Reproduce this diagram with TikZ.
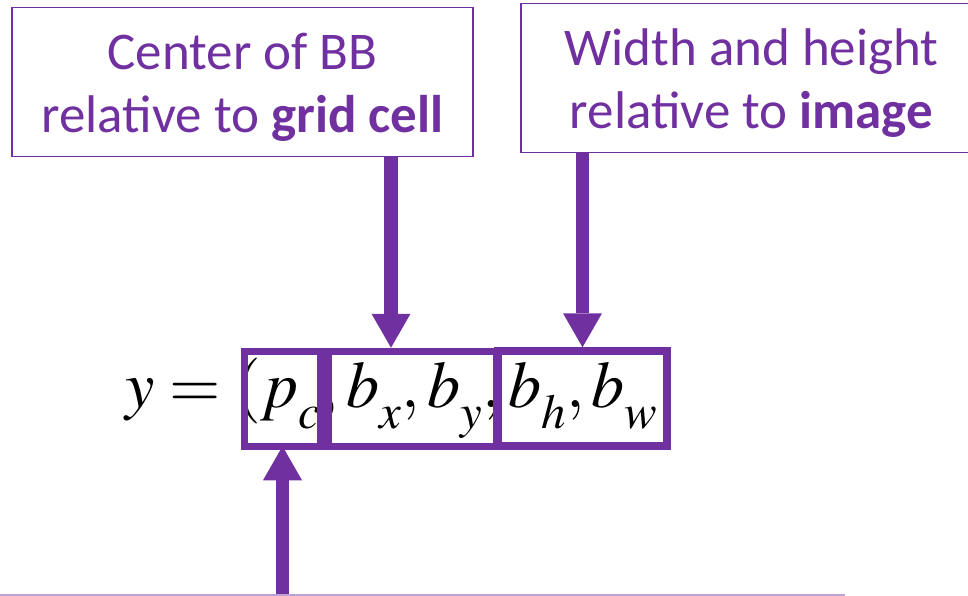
\documentclass[tikz,border=0pt]{standalone}
\usepackage{mathptmx}
\usepackage[no-math]{fontspec}
\newfontfamily\labelfont{Carlito}
\usetikzlibrary{arrows.meta}
\definecolor{vpurple}{HTML}{7030A0}
\newcommand\lowsub[1]{_{\lower12pt\hbox{$\scriptstyle #1$}}}

\begin{document}
\begin{tikzpicture}[x=1pt,y=-1pt,
    labelbox/.style={draw=vpurple,line width=1.5pt,text=vpurple,align=center,
      minimum width=461pt,minimum height=149pt,
      font=\labelfont\fontsize{53}{63.5}\selectfont},
    markbox/.style={draw=vpurple,line width=7.5pt,minimum height=95pt,inner sep=0pt},
    bigarrow/.style={draw=vpurple,line width=13.5pt,
      -{Triangle[length=34pt,width=39pt,line width=0pt]}}]
  \useasboundingbox (0,0) rectangle (968,596);

  \node[anchor=base west,inner sep=0pt,font=\fontsize{66}{70}\selectfont] (eqn) at (125,407)
    {$y=(p\lowsub{c},b\lowsub{x},b\lowsub{y},b\lowsub{h},b\lowsub{w}$};

  \node[markbox,minimum width=76pt] (pcbox) at (282.5,399) {};
  \node[markbox,minimum width=169pt] (bxybox) at (412.5,399) {};
  \node[markbox,minimum width=169pt] (bhwbox) at (582.5,398.5) {};

  \node[labelbox] (center) at (242.5,82)
    {\rule{0pt}{47pt}Center of BB\\relative to \textbf{grid cell}};
  \node[labelbox] (size) at (751.5,78)
    {\rule{0pt}{47pt}Width and height\\relative to \textbf{image}};
  \node[labelbox,draw=vpurple!45,minimum width=900pt] (conf) at (394,669.5) {};

  \coordinate (xytip) at (391,0);
  \draw[bigarrow] (center.south -| xytip) -- (bxybox.north -| xytip);
  \draw[bigarrow] (size.south -| bhwbox.north) -- (bhwbox.north);
  \draw[bigarrow,shorten >=-4pt] (conf.north -| pcbox.south) -- (pcbox.south);
\end{tikzpicture}
\end{document}
